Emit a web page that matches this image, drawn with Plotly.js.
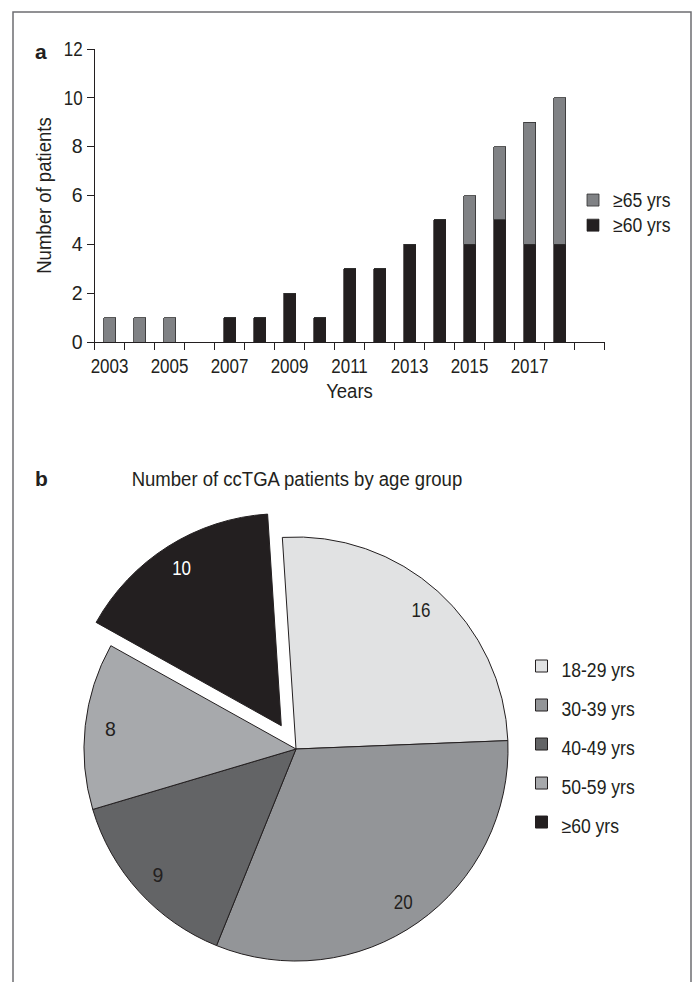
<!DOCTYPE html>
<html><head><meta charset="utf-8">
<script src="https://cdn.plot.ly/plotly-3.0.1.min.js"></script>
<style>html,body{margin:0;padding:0;overflow:hidden;background:#fff}</style>
</head><body><div id="chart"></div>
<script>
// ---- data ----
const years = [2003,2004,2005,2006,2007,2008,2009,2010,2011,2012,2013,2014,2015,2016,2017,2018];
const over60 = [0,0,0,0,1,1,2,1,3,3,4,5,4,5,4,4];
const over65 = [1,1,1,0,0,0,0,0,0,0,0,0,2,3,5,6];
const yearTickVals = [2003,2005,2007,2009,2011,2013,2015,2017];
const yearTickText = ['2003','2005','2007','2009','2011','2013','2015','2017'];
const ageGroups = ['18-29 yrs','30-39 yrs','40-49 yrs','50-59 yrs','≥60 yrs'];
const ageCounts = [16,20,9,8,10];
const seriesNames = ['≥60 yrs','≥65 yrs'];

// ---- layout helpers ----
const W = 694, H = 1000;
const px = v => v / W;
const py = v => 1 - v / H;
const FONT = '"Liberation Sans", Arial, sans-serif';
const FS = 19.5;
const INK = '#231f20';
const lbl = t => '<span style="font-size:' + FS + 'px">' + t + '</span>';

const boundaries = years.map(y => y - 0.5).concat([years[years.length-1] + 0.5, years[years.length-1] + 1.5]);
const pieDomain = {x:[px(296-239.6), px(296+239.6)], y:[py(749+239.6), py(749-239.6)]};
const piePull = [0,0,0,0,0.13];
const clear = 'rgba(0,0,0,0)';

const traces = [
  {type:'bar', x: years, y: over60, name: lbl(seriesNames[0]), width: 0.4,
   marker:{color: INK, line:{color: INK, width: 0.7}}, legend:'legend', hoverinfo:'x+y'},
  {type:'bar', x: years, y: over65, name: lbl(seriesNames[1]), width: 0.4,
   marker:{color:'#808285', line:{color:'#2e2e2e', width: 0.8}}, legend:'legend', hoverinfo:'x+y'},
  {type:'pie', labels: ageGroups.map(lbl), values: ageCounts, sort:false, direction:'clockwise',
   rotation:-3.7, pull: piePull,
   marker:{colors:['#e1e2e3','#939598','#636466','#a7a9ac','#231f20'], line:{color: INK, width: 1}},
   textinfo:'none', domain: pieDomain, legend:'legend2', hoverinfo:'label+value'},
  // transparent ring carrying the value labels near the rim
  {type:'pie', labels: ageGroups.map(lbl), values: ageCounts, sort:false, direction:'clockwise',
   rotation:-3.7, pull: piePull, hole: 0.76, showlegend:false,
   marker:{colors:[clear, clear, clear, clear, clear], line:{width:0}},
   textinfo:'value', textposition:'inside', insidetextorientation:'horizontal',
   insidetextfont:{family: FONT, size: FS, color:[INK, INK, INK, INK, '#ffffff']},
   domain: pieDomain, hoverinfo:'skip'}
];

const layout = {
  width: W, height: H, autosize:false,
  margin:{l:0,r:0,t:0,b:0},
  paper_bgcolor:'#fff', plot_bgcolor:'#fff',
  font:{family: FONT, size: FS, color: INK},
  barmode:'stack',
  xaxis:{domain:[px(94.5), px(604.5)], range:[years[0]-0.5, years[years.length-1]+1.5],
    tickmode:'array', tickvals: yearTickVals, ticktext: yearTickText,
    ticks:'outside', ticklen:7, tickcolor: clear,
    minor:{tickmode:'array', tickvals: boundaries, ticks:'outside', ticklen:7, tickcolor: INK, tickwidth:1, showgrid:false},
    showline:true, linecolor: INK, linewidth:1, showgrid:false, zeroline:false,
    tickfont:{size:FS},
    title:{text:'Years', font:{size:FS}, standoff:7}},
  yaxis:{domain:[py(342), py(49)], range:[0,12], dtick:2, tick0:0,
    ticks:'outside', ticklen:7, tickcolor: INK, tickwidth:1,
    showline:true, linecolor: INK, linewidth:1, showgrid:false, zeroline:false,
    tickfont:{size:FS},
    title:{text:'Number of patients', font:{size:FS}, standoff:4}},
  legend:{x: px(573), xanchor:'left', y: py(182.5), yanchor:'top', traceorder:'reversed',
    font:{size:17, family: FONT, color: INK}, bgcolor: clear},
  legend2:{x: px(521.5), xanchor:'left', y: py(641.5), yanchor:'top', traceorder:'normal',
    font:{size:27.7, family: FONT, color: INK}, bgcolor: clear},
  shapes:[{type:'rect', xref:'paper', yref:'paper', x0: px(13), x1: px(691), y0: -0.2, y1: py(12),
    line:{color:'#6d6e71', width:1.5}, fillcolor: clear, layer:'below'}],
  annotations:[
    {text:'<b>a</b>', xref:'paper', yref:'paper', x: px(41), y: py(51), xanchor:'center', yanchor:'middle', showarrow:false, font:{size:21}},
    {text:'<b>b</b>', xref:'paper', yref:'paper', x: px(41), y: py(478), xanchor:'center', yanchor:'middle', showarrow:false, font:{size:21}},
    {text:'Number of ccTGA patients by age group', xref:'paper', yref:'paper', x: px(297), y: py(479), xanchor:'center', yanchor:'middle', showarrow:false, font:{size:FS}}
  ]
};

Plotly.newPlot('chart', traces, layout, {displayModeBar:false, staticPlot:true}).then(() => {
  // condense glyphs horizontally to imitate the condensed typeface of the original
  document.querySelectorAll('#chart svg text').forEach(t => {
    const w = t.getComputedTextLength();
    const s = t.textContent.trim();
    if (w > 0 && s.length > 1) {
      let k = 0.9;
      if (/^[0-9]+$/.test(s)) k = 0.87;
      else if (!/[0-9]/.test(s)) k = 0.95;
      t.setAttribute('textLength', (w * k).toFixed(2));
      t.setAttribute('lengthAdjust', 'spacingAndGlyphs');
    }
  });
});
</script></body></html>
